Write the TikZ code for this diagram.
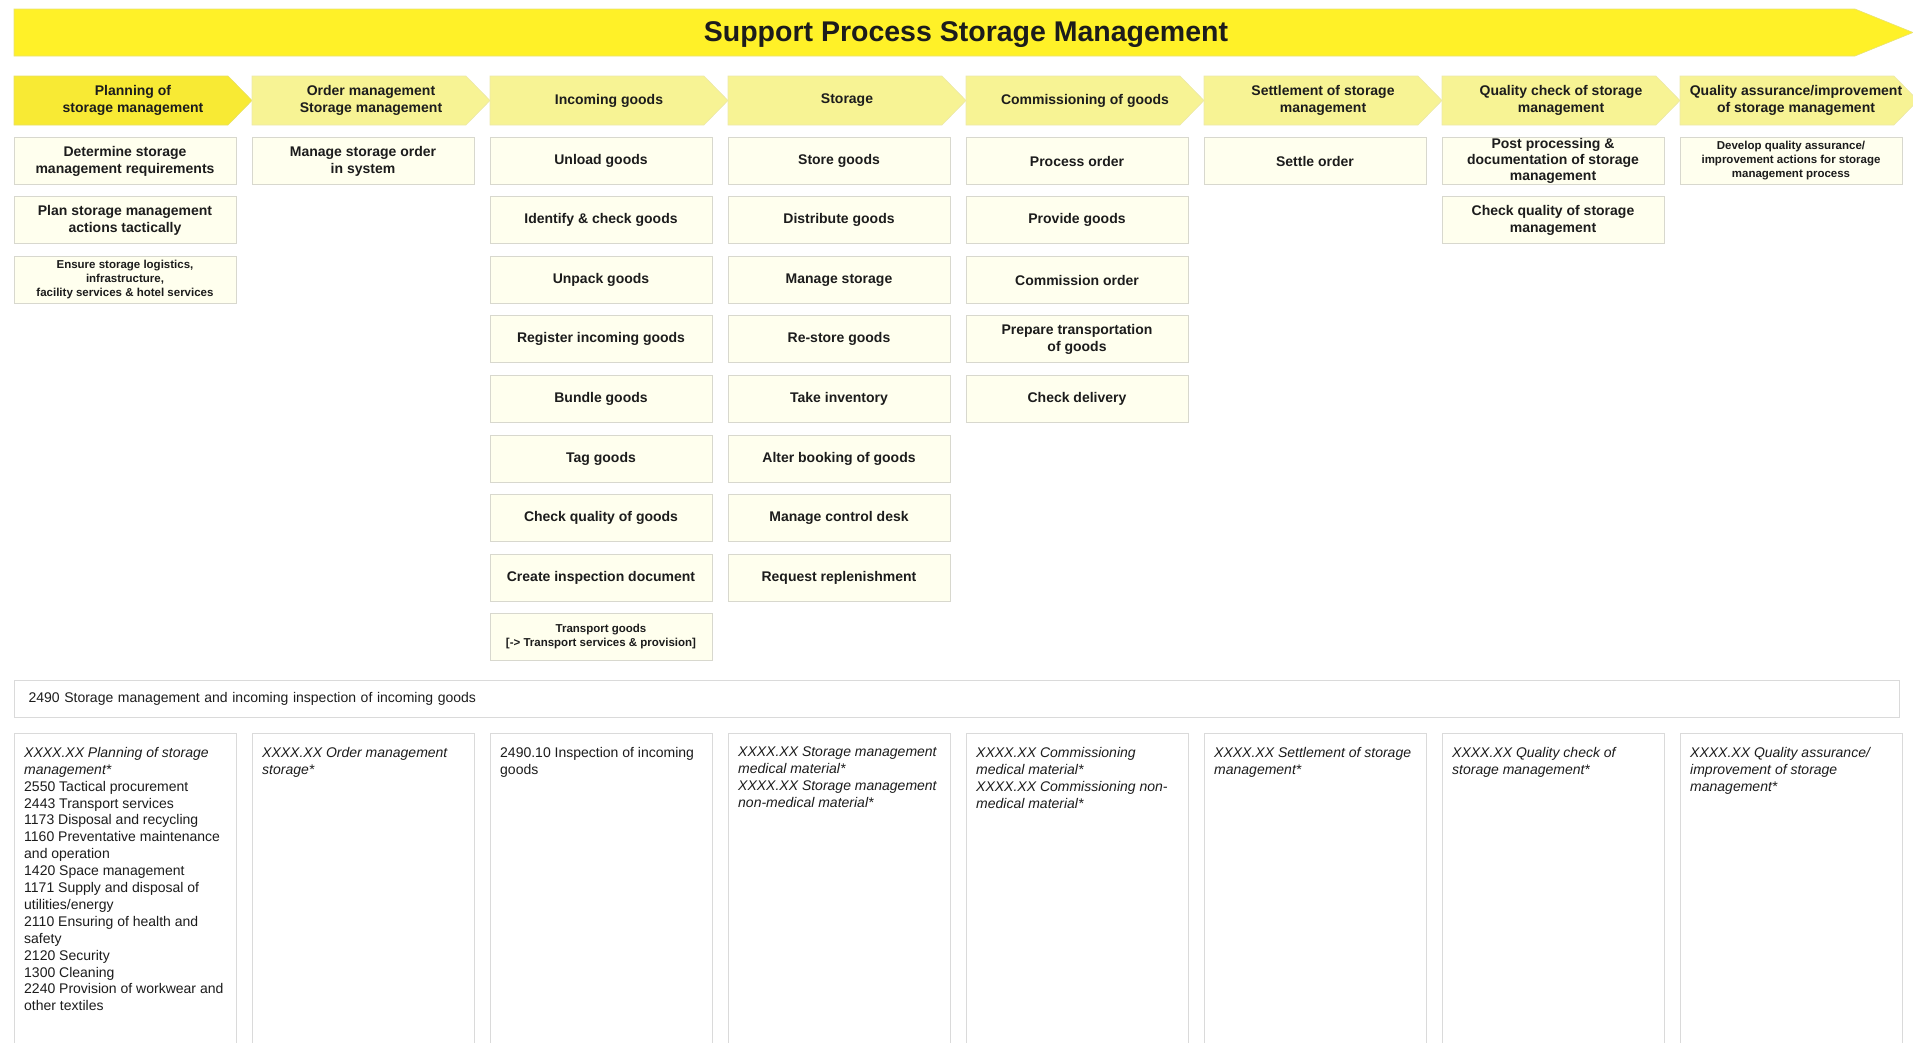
\documentclass[tikz,border=0pt]{standalone}
\usepackage{fontspec}
\setmainfont{Liberation Sans}
\usetikzlibrary{positioning}

\definecolor{titleyellow}{RGB}{255,241,40}
\definecolor{titleline}{RGB}{232,226,120}
\definecolor{firstyellow}{RGB}{248,234,52}
\definecolor{firstline}{RGB}{232,224,100}
\definecolor{paleyellow}{RGB}{247,243,148}
\definecolor{paleline}{RGB}{236,232,170}
\definecolor{taskfill}{RGB}{255,255,238}
\definecolor{taskline}{RGB}{216,216,206}
\definecolor{slotline}{RGB}{218,218,218}
\definecolor{inktext}{RGB}{28,28,28}

\begin{document}
\begin{tikzpicture}[x=1pt, y=-1pt,
  phase/.style={align=center, inner sep=0pt, text=inktext,
    font=\bfseries\fontsize{14}{17}\selectfont},
  task/.style={rectangle, draw=taskline, fill=taskfill, line width=0.8pt,
    minimum width=222pt, minimum height=47.6pt, inner sep=0pt, align=center,
    text=inktext, font=\bfseries\fontsize{14}{17}\selectfont},
  smalltask/.style={task, font=\bfseries\fontsize{11.5}{14}\selectfont},
  slot/.style={draw=slotline, line width=1pt, fill=white},
  note/.style={anchor=north west, align=left, inner sep=0pt, text=inktext,
    font=\fontsize{14}{16.9}\selectfont}]

\useasboundingbox (0,0) rectangle (1913,1042);

%Title
\filldraw[fill=titleyellow, draw=titleline, line width=0.6pt] (14,9) -- (1855,9) -- (1913,32.5) -- (1855,56) -- (14,56) -- cycle;
\node (T) at (966,35) [text=inktext, font=\bfseries\fontsize{28.5}{33}\selectfont] {Support Process Storage Management};

%Phases
\filldraw[fill=firstyellow, draw=firstline, line width=0.6pt] (14,76) -- ++(214,0) -- ++(24,24.5) -- ++(-24,24.5) -- ++(-214,0) -- cycle;
\filldraw[fill=paleyellow, draw=paleline, line width=0.6pt] (252,76) -- ++(214,0) -- ++(24,24.5) -- ++(-24,24.5) -- ++(-214,0) -- cycle;
\filldraw[fill=paleyellow, draw=paleline, line width=0.6pt] (490,76) -- ++(214,0) -- ++(24,24.5) -- ++(-24,24.5) -- ++(-214,0) -- cycle;
\filldraw[fill=paleyellow, draw=paleline, line width=0.6pt] (728,76) -- ++(214,0) -- ++(24,24.5) -- ++(-24,24.5) -- ++(-214,0) -- cycle;
\filldraw[fill=paleyellow, draw=paleline, line width=0.6pt] (966,76) -- ++(214,0) -- ++(24,24.5) -- ++(-24,24.5) -- ++(-214,0) -- cycle;
\filldraw[fill=paleyellow, draw=paleline, line width=0.6pt] (1204,76) -- ++(214,0) -- ++(24,24.5) -- ++(-24,24.5) -- ++(-214,0) -- cycle;
\filldraw[fill=paleyellow, draw=paleline, line width=0.6pt] (1442,76) -- ++(214,0) -- ++(24,24.5) -- ++(-24,24.5) -- ++(-214,0) -- cycle;
\filldraw[fill=paleyellow, draw=paleline, line width=0.6pt] (1680,76) -- ++(214,0) -- ++(24,24.5) -- ++(-24,24.5) -- ++(-214,0) -- cycle;

\node (P1) at (133,100.5) [phase] {Planning of\\storage management};
\node (P2) at (371,100.5) [phase] {Order management\\Storage management};
\node (P3) at (609,100.5) [phase] {Incoming goods};
\node (P4) at (847,100.5) [phase] {Storage};
\node (P5) at (1085,100.5) [phase] {Commissioning of goods};
\node (P6) at (1323,100.5) [phase] {Settlement of storage\\management};
\node (P7) at (1561,100.5) [phase] {Quality check of storage\\management};
\node (P8) at (1796,100.5) [phase] {Quality assurance/improvement\\of storage management};

%Activities
\node (A1) at (125,161) [task] {Determine storage\\management requirements};
\node (A2) at (125,220) [task] {Plan storage management\\actions tactically};
\node (A3) at (125,280) [smalltask] {Ensure storage logistics,\\infrastructure,\\facility services \& hotel services};

\node (B1) at (363,161) [task] {Manage storage order\\in system};

\node (C1) at (601,161) [task] {Unload goods};
\node (C2) at (601,220) [task] {Identify \& check goods};
\node (C3) at (601,280) [task] {Unpack goods};
\node (C4) at (601,339) [task] {Register incoming goods};
\node (C5) at (601,399) [task] {Bundle goods};
\node (C6) at (601,459) [task] {Tag goods};
\node (C7) at (601,518) [task] {Check quality of goods};
\node (C8) at (601,578) [task] {Create inspection document};
\node (C9) at (601,637) [smalltask] {Transport goods\\{[}-> Transport services \& provision{]}};

\node (D1) at (839,161) [task] {Store goods};
\node (D2) at (839,220) [task] {Distribute goods};
\node (D3) at (839,280) [task] {Manage storage};
\node (D4) at (839,339) [task] {Re-store goods};
\node (D5) at (839,399) [task] {Take inventory};
\node (D6) at (839,459) [task] {Alter booking of goods};
\node (D7) at (839,518) [task] {Manage control desk};
\node (D8) at (839,578) [task] {Request replenishment};

\node (E1) at (1077,161) [task] {Process order};
\node (E2) at (1077,220) [task] {Provide goods};
\node (E3) at (1077,280) [task] {Commission order};
\node (E4) at (1077,339) [task] {Prepare transportation\\of goods};
\node (E5) at (1077,399) [task] {Check delivery};

\node (F1) at (1315,161) [task] {Settle order};

\node (G1) at (1553,161) [task, font=\bfseries\fontsize{14}{16}\selectfont] {Post processing \&\\documentation of storage\\management};
\node (G2) at (1553,220) [task] {Check quality of storage\\management};

\node (H1) at (1791,161) [smalltask] {Develop quality assurance/\\improvement actions for storage\\management process};

%Service catalogue
\node (S) at (14,698.5) [anchor=west, draw=slotline, line width=1pt, minimum width=1885pt, minimum height=37pt, text width=1857pt, inner xsep=14pt, inner ysep=0pt, align=left, text=inktext, font=\fontsize{14}{17}\selectfont] {2490 Storage management and incoming inspection of incoming goods};

\draw[slot] (14,733) rectangle ++(222,320);
\draw[slot] (252,733) rectangle ++(222,320);
\draw[slot] (490,733) rectangle ++(222,320);
\draw[slot] (728,733) rectangle ++(222,320);
\draw[slot] (966,733) rectangle ++(222,320);
\draw[slot] (1204,733) rectangle ++(222,320);
\draw[slot] (1442,733) rectangle ++(222,320);
\draw[slot] (1680,733) rectangle ++(222,320);

\node (N1) at (24,747) [note] {\itshape XXXX.XX Planning of storage\\\itshape management*\\2550 Tactical procurement\\2443 Transport services\\1173 Disposal and recycling\\1160 Preventative maintenance\\and operation\\1420 Space management\\1171 Supply and disposal of\\utilities/energy\\2110 Ensuring of health and\\safety\\2120 Security\\1300 Cleaning\\2240 Provision of workwear and\\other textiles};
\node (N2) at (262,747) [note] {\itshape XXXX.XX Order management\\\itshape storage*};
\node (N3) at (500,747) [note] {2490.10 Inspection of incoming\\goods};
\node (N4) at (738,747) [note] {\itshape XXXX.XX Storage management\\\itshape medical material*\\\itshape XXXX.XX Storage management\\\itshape non-medical material*};
\node (N5) at (976,747) [note] {\itshape XXXX.XX Commissioning\\\itshape medical material*\\\itshape XXXX.XX Commissioning non-\\\itshape medical material*};
\node (N6) at (1214,747) [note] {\itshape XXXX.XX Settlement of storage\\\itshape management*};
\node (N7) at (1452,747) [note] {\itshape XXXX.XX Quality check of\\\itshape storage management*};
\node (N8) at (1690,747) [note] {\itshape XXXX.XX Quality assurance/\\\itshape improvement of storage\\\itshape management*};

\end{tikzpicture}
\end{document}
